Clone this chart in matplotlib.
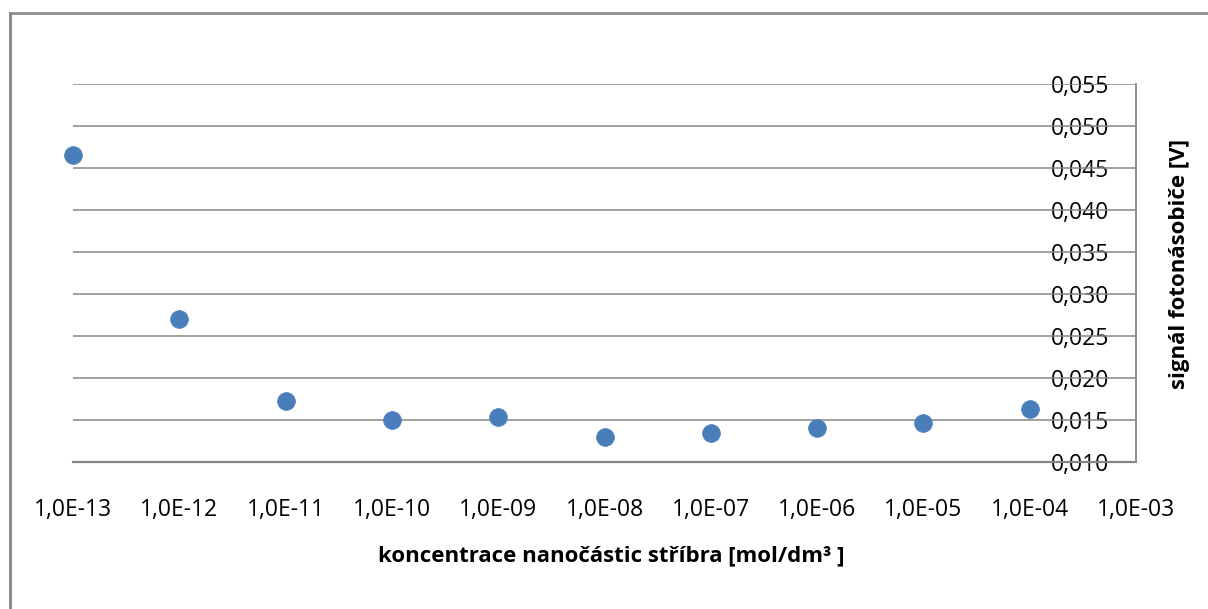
import matplotlib
matplotlib.use("Agg")
import matplotlib.pyplot as plt
from matplotlib.lines import Line2D
from matplotlib.ticker import FixedLocator, FuncFormatter, NullLocator

# Data
concentration = [1e-13, 1e-12, 1e-11, 1e-10, 1e-9, 1e-8, 1e-7, 1e-6, 1e-5, 1e-4]
signal = [0.0465, 0.0270, 0.0173, 0.0150, 0.0154, 0.0130, 0.0134, 0.0140, 0.0146, 0.0163]
x_ticks = [1e-13, 1e-12, 1e-11, 1e-10, 1e-9, 1e-8, 1e-7, 1e-6, 1e-5, 1e-4, 1e-3]
y_ticks = [0.010, 0.015, 0.020, 0.025, 0.030, 0.035, 0.040, 0.045, 0.050, 0.055]
x_label = "koncentrace nanočástic stříbra [mol/dm³ ]"
y_label = "signál fotonásobiče [V]"

plt.rcParams['font.family'] = ['Open Sans', 'DejaVu Sans']

W, H = 1208, 609
fig = plt.figure(figsize=(W / 100, H / 100), dpi=100)
fig.patch.set_facecolor('white')

ax_l, ax_r, ax_t, ax_b = 73, 1136, 84, 462
ax = fig.add_axes([ax_l / W, 1 - ax_b / H, (ax_r - ax_l) / W, (ax_b - ax_t) / H])

grid_c = '#868686'
ax.set_xscale('log')
ax.set_xlim(x_ticks[0], x_ticks[-1])
ax.set_ylim(y_ticks[0], y_ticks[-1])

ax.xaxis.set_major_locator(FixedLocator(x_ticks))
ax.xaxis.set_minor_locator(NullLocator())
ax.xaxis.set_major_formatter(FuncFormatter(lambda v, p: ("%.1E" % v).replace('.', ',')))
ax.yaxis.set_major_locator(FixedLocator(y_ticks))
ax.yaxis.set_major_formatter(FuncFormatter(lambda v, p: ("%.3f" % v).replace('.', ',')))

for yv in y_ticks[1:]:
    ax.axhline(yv, color=grid_c, lw=1.1, zorder=3)

ax.plot(concentration, signal, 'o', color='#4a7ebb', markersize=12.8,
        markeredgecolor='#4a7ebb', markeredgewidth=0.5, zorder=5, clip_on=False)

for s in ['left', 'top']:
    ax.spines[s].set_visible(False)
ax.spines['bottom'].set_color(grid_c)
ax.spines['bottom'].set_linewidth(1.6)
ax.spines['right'].set_color(grid_c)
ax.spines['right'].set_linewidth(1.3)

ax.yaxis.tick_right()
ax.tick_params(axis='y', length=0, pad=-19, labelsize=16.5)
for lbl in ax.get_yticklabels():
    lbl.set_horizontalalignment('right')
ax.tick_params(axis='x', length=0, pad=26, labelsize=16.5)

fig.text(611 / W, 1 - 556 / H, x_label, ha='center', va='center',
         fontsize=16, fontweight='bold')
fig.text(1180 / W, 1 - 264 / H, y_label, ha='center', va='center',
         rotation=90, fontsize=16, fontweight='bold')

# outer chart frame (left and top edges visible)
fig.add_artist(Line2D([10 / W, 10 / W], [0, 1 - 13 / H], transform=fig.transFigure,
                      color='#8c8c8c', lw=2.2))
fig.add_artist(Line2D([10 / W, 1], [1 - 13 / H, 1 - 13 / H], transform=fig.transFigure,
                      color='#8c8c8c', lw=2.0))

fig.savefig('out.png', dpi=100, facecolor='white')
